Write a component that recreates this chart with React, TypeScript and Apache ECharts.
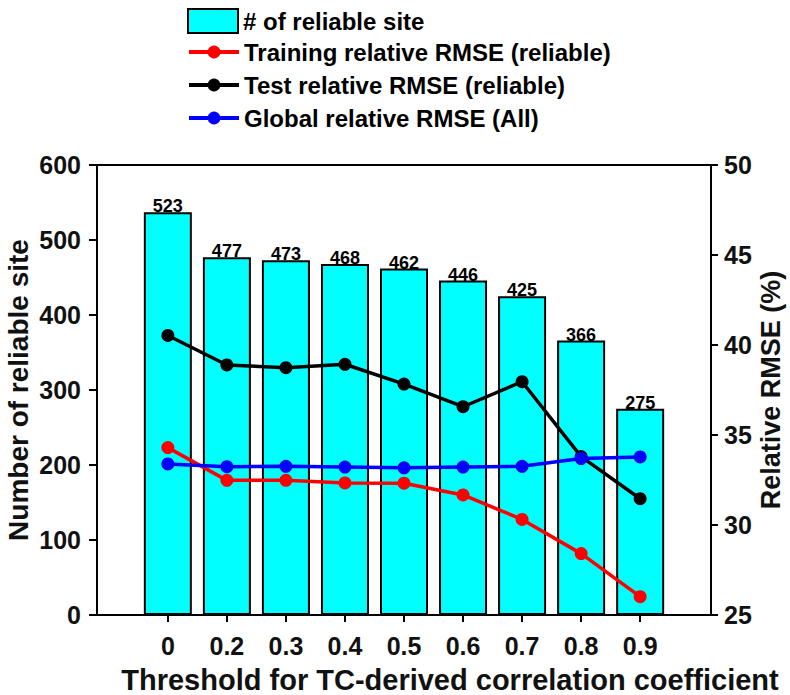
import React, { useEffect, useRef } from "react";
import * as echarts from "echarts";

const categories = ["0", "0.2", "0.3", "0.4", "0.5", "0.6", "0.7", "0.8", "0.9"];
const siteCounts = [537, 477, 473, 468, 462, 446, 425, 366, 275];
const siteLabels = ["523", "477", "473", "468", "462", "446", "425", "366", "275"];
const trainingRMSE = [34.3, 32.48, 32.48, 32.34, 32.32, 31.67, 30.31, 28.41, 26.02];
const testRMSE = [40.53, 38.89, 38.74, 38.93, 37.83, 36.57, 37.96, 33.8, 31.46];
const globalRMSE = [33.39, 33.24, 33.26, 33.22, 33.18, 33.22, 33.26, 33.69, 33.78];
const leftTicks = [0, 600, 100];
const rightTicks = [25, 50, 5];

const FONT = "'Liberation Sans', Arial, Helvetica, sans-serif";
const TXT = "#111";

export default function App() {
  const ref = useRef<HTMLDivElement>(null);
  useEffect(() => {
    if (!ref.current) return;
    const chart = echarts.init(ref.current, null, { renderer: "svg" });
    const idx = categories.map((_, i) => i);
    const pts = (arr: number[]) => arr.map((v, i) => [i, v]);
    const lineSeries = (name: string, data: number[], color: string) => ({
      name,
      type: "line",
      yAxisIndex: 1,
      data: pts(data),
      symbol: "circle",
      symbolSize: 13,
      lineStyle: { color, width: 3.5 },
      itemStyle: { color },
      z: 3,
    });
    const legendText = { fontFamily: FONT, fontWeight: "bold", fontSize: 24, color: "#000" };
    chart.setOption({
      animation: false,
      backgroundColor: "#fff",
      textStyle: { fontFamily: FONT },
      grid: { left: 97, right: 79, top: 165, bottom: 80, outerBoundsMode: "none", containLabel: false },
      legend: [
        {
          data: [{ name: "# of reliable site", icon: "rect" }],
          left: 187,
          top: 8,
          padding: 0,
          itemWidth: 50,
          itemHeight: 24,
          itemGap: 0,
          textStyle: legendText,
          selectedMode: false,
        },
        {
          data: [
            "Training relative RMSE (reliable)",
            "Test relative RMSE (reliable)",
            "Global relative RMSE (All)",
          ],
          orient: "vertical",
          left: 187,
          top: 40,
          padding: 0,
          itemWidth: 50,
          itemHeight: 16,
          itemGap: 9,
          lineStyle: { width: 4 },
          textStyle: legendText,
          selectedMode: false,
        },
      ],
      xAxis: [
        {
          type: "value",
          min: -1.2,
          max: 9.2,
          name: "Threshold for TC-derived correlation coefficient",
          nameLocation: "middle",
          nameGap: 50,
          nameMoveOverlap: false,
          nameTextStyle: {
            fontFamily: FONT,
            fontWeight: "bold",
            fontSize: 29,
            color: TXT,
            padding: [0, 0, 0, 92],
          },
          axisLine: { onZero: false, lineStyle: { color: "#000", width: 2 } },
          axisTick: {
            customValues: idx,
            length: 7,
            lineStyle: { color: "#000", width: 2 },
          },
          axisLabel: {
            customValues: idx,
            margin: 18,
            formatter: (v: number) => categories[Math.round(v)] ?? "",
            fontFamily: FONT,
            fontWeight: "bold",
            fontSize: 25,
            color: TXT,
          },
          splitLine: { show: false },
        },
        {
          type: "value",
          position: "top",
          min: -1.2,
          max: 9.2,
          axisLine: { show: true, onZero: false, lineStyle: { color: "#000", width: 2 } },
          axisTick: { show: false },
          axisLabel: { show: false },
          splitLine: { show: false },
        },
      ],
      yAxis: [
        {
          type: "value",
          min: leftTicks[0],
          max: leftTicks[1],
          interval: leftTicks[2],
          name: "Number of reliable site",
          nameLocation: "middle",
          nameGap: 65,
          nameMoveOverlap: false,
          nameTextStyle: { fontFamily: FONT, fontWeight: "bold", fontSize: 28, color: TXT },
          axisLine: { show: true, onZero: false, lineStyle: { color: "#000", width: 2 } },
          axisTick: { show: true, length: 8, lineStyle: { color: "#000", width: 2 } },
          axisLabel: { margin: 16, fontFamily: FONT, fontWeight: "bold", fontSize: 25, color: TXT },
          splitLine: { show: false },
        },
        {
          type: "value",
          min: rightTicks[0],
          max: rightTicks[1],
          interval: rightTicks[2],
          position: "right",
          name: "Relative RMSE (%)",
          nameLocation: "middle",
          nameGap: 46,
          nameRotate: 90,
          nameMoveOverlap: false,
          nameTextStyle: { fontFamily: FONT, fontWeight: "bold", fontSize: 27, color: TXT },
          axisLine: { show: true, onZero: false, lineStyle: { color: "#000", width: 2 } },
          axisTick: { show: true, length: 7, lineStyle: { color: "#000", width: 2 } },
          axisLabel: { margin: 13, fontFamily: FONT, fontWeight: "bold", fontSize: 25, color: TXT },
          splitLine: { show: false },
        },
      ],
      series: [
        {
          name: "# of reliable site",
          type: "bar",
          yAxisIndex: 0,
          data: pts(siteCounts),
          barWidth: 48,
          itemStyle: { color: "#00FFFF", borderColor: "#000", borderWidth: 2 },
          label: {
            show: true,
            position: "top",
            distance: 0,
            offset: [0, 3],
            formatter: (p: any) => siteLabels[p.dataIndex],
            fontFamily: FONT,
            fontWeight: "bold",
            fontSize: 18,
            color: "#000",
          },
          z: 2,
        },
        lineSeries("Training relative RMSE (reliable)", trainingRMSE, "#FF0000"),
        lineSeries("Test relative RMSE (reliable)", testRMSE, "#000000"),
        lineSeries("Global relative RMSE (All)", globalRMSE, "#0000FF"),
      ],
    });
    return () => chart.dispose();
  }, []);
  return <div ref={ref} style={{ width: 790, height: 695, position: "absolute", left: 0, top: 0 }} />;
}
